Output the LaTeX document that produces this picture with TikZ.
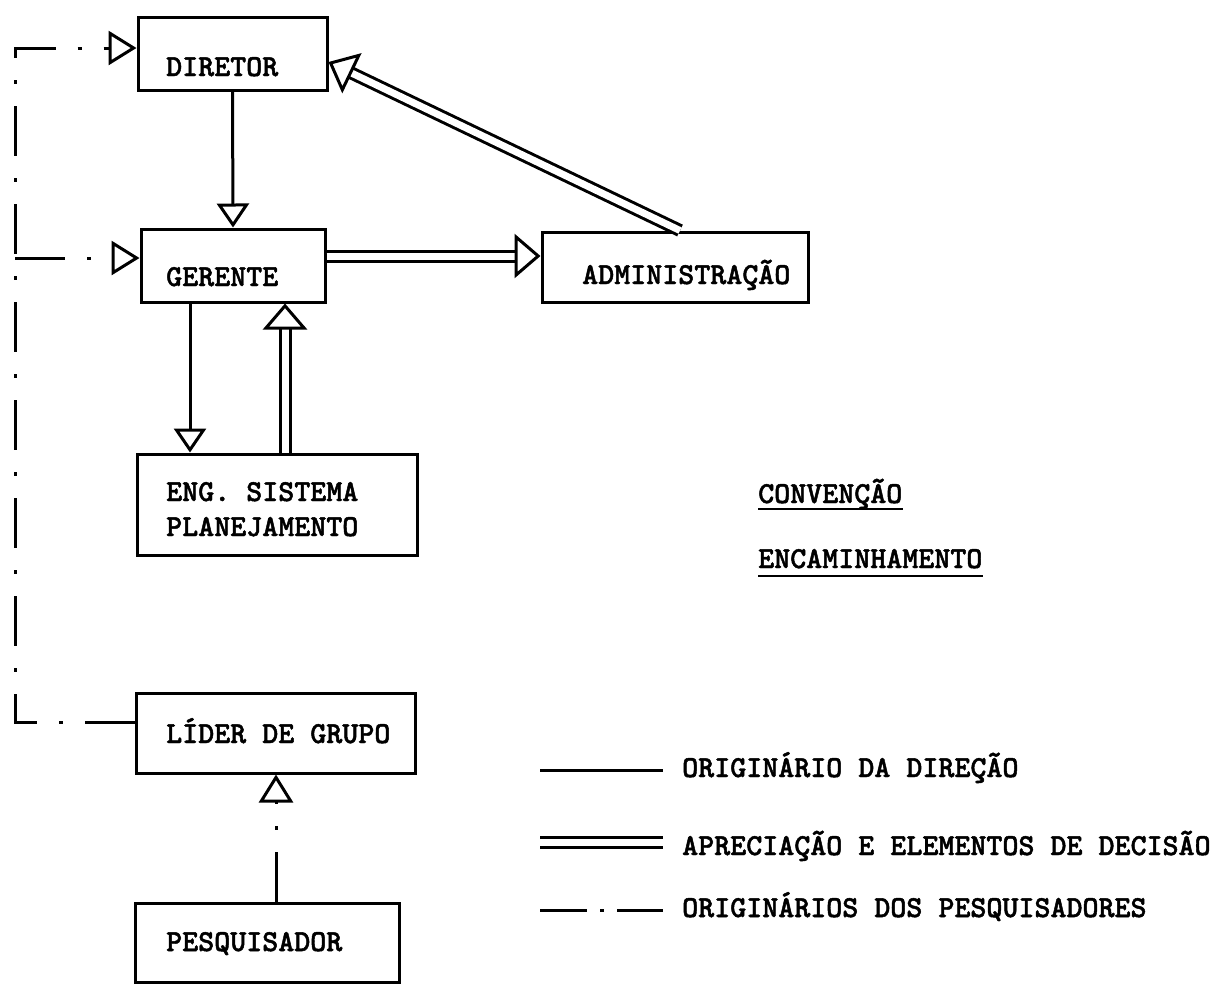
\documentclass[tikz,border=0pt]{standalone}
\usepackage{fontspec}
\newfontfamily\tw[Extension=.otf, FakeBold=1.5]{lmmonolt10-bold}
\usetikzlibrary{arrows.meta}
\tikzset{
 box/.style={draw, line width=3pt, inner sep=0pt},
 txt/.style={inner sep=0pt, anchor=base west, font={\tw\fontsize{30.5}{33}\selectfont}},
 ltxt/.style={inner sep=0pt, anchor=base west, font={\tw\fontsize{30.5}{33}\selectfont}},
 sgl/.style={line width=3pt, -{Triangle[open, length=24pt, width=32pt, line width=3pt]}},
 dbl/.style={line width=3pt, double, double distance=7pt, -{Triangle[open, length=26pt, width=44pt, line width=3pt]}},
 ddot/.style={line width=3pt, dash pattern=on 50pt off 22pt on 4pt off 22pt},
 ddarr/.style={ddot, -{Triangle[open, length=28pt, width=34pt, line width=3pt]}},
 uline/.style={line width=2.4pt},
}
\begin{document}
\begin{tikzpicture}[x=1pt, y=-1pt]
\useasboundingbox[fill=white] (0,0) rectangle (1222,989);
% boxes
\node[box, minimum width=189pt, minimum height=73pt] (dir) at (232.5,53.5) {};
\node[box, minimum width=184pt, minimum height=73pt] (ger) at (233,265.5) {};
\node[box, minimum width=266pt, minimum height=70pt] (adm) at (675,267) {};
\node[box, minimum width=280pt, minimum height=101pt] (eng) at (277,504.5) {};
\node[box, minimum width=279pt, minimum height=80pt] (lid) at (275.5,733) {};
\node[box, minimum width=264pt, minimum height=79pt] (pes) at (267,942.5) {};
% texts
\node[txt] (dirt) at (166,76) {DIRETOR};
\node[txt] (gert) at (166,286) {GERENTE};
\node[txt] (admt) at (582,284) {ADMINISTRAÇÃO};
\node[txt] (engt1) at (166,501) {ENG. SISTEMA};
\node[txt] (engt2) at (166,536) {PLANEJAMENTO};
\node[txt] (lidt) at (166,743) {LÍDER DE GRUPO};
\node[txt] (pest) at (166,951) {PESQUISADOR};
% connectors
\draw[sgl] (dir.south) -- (ger.north);
\draw[sgl] ([xshift=-43pt]ger.south) -- ([xshift=-43pt]ger.south |- eng.north);
\draw[dbl] ([xshift=52pt]ger.south |- eng.north) -- ([xshift=52pt]ger.south);
\draw[dbl] ([yshift=9.5pt]ger.east) -- ([yshift=9.5pt]ger.east -| adm.west);
\draw[dbl] ([xshift=5pt]adm.north) -- ([yshift=-8.5pt]dir.east);
\coordinate (ctop) at (15,48);
\coordinate (cmid) at (15,258);
\coordinate (cbot) at (15,722);
\draw[ddarr] (cbot -| lid.west) -- (cbot) -- (ctop) -- (ctop -| dir.west);
\draw[ddarr] (cmid) -- (cmid -| ger.west);
\draw[ddarr] ([xshift=9pt]pes.north) -- ([xshift=9pt]pes.north |- lid.south);
% legend
\node[ltxt] (conv) at (758,503) {CONVENÇÃO};
\draw[uline] ([yshift=-6pt]conv.base west) -- ([yshift=-6pt]conv.base east);
\node[ltxt] (enc) at (758,568) {ENCAMINHAMENTO};
\draw[uline] ([yshift=-8pt]enc.base west) -- ([yshift=-8pt]enc.base east);
\coordinate (l1a) at (540,770); \coordinate (l1b) at (663,770);
\coordinate (l2a) at (540,842.5); \coordinate (l2b) at (663,842.5);
\coordinate (l3a) at (540,910); \coordinate (l3b) at (663,910);
\draw[line width=3pt] (l1a) -- (l1b);
\draw[line width=3pt, double, double distance=7pt] (l2a) -- (l2b);
\draw[line width=3pt, dash pattern=on 47pt off 13pt on 4pt off 13pt] (l3a) -- (l3b);
\node[ltxt] (leg1) at (682,777) {ORIGINÁRIO DA DIREÇÃO};
\node[txt] (leg2) at (682,855) {APRECIAÇÃO E ELEMENTOS DE DECISÃO};
\node[ltxt] (leg3) at (682,917) {ORIGINÁRIOS DOS PESQUISADORES};
\end{tikzpicture}
\end{document}
